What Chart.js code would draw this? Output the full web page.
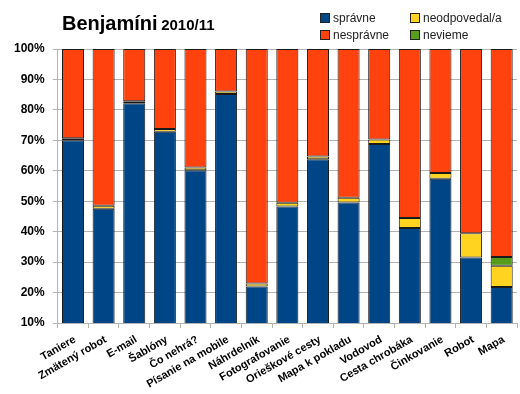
<!DOCTYPE html>
<html>
<head>
<meta charset="utf-8">
<script src="https://cdn.jsdelivr.net/npm/chart.js@4.4.1/dist/chart.umd.min.js"></script>
<style>
    html, body { margin: 0; padding: 0; background: #ffffff; }
    #wrap { width: 520px; height: 394px; position: relative; }
</style>
</head>
<body>
<div id="wrap"><canvas id="benjChart"></canvas></div>
<script>
// ############### data ###############
const tasks = [
    "Taniere", "Zmätený robot", "E-mail", "Šablóny", "Čo nehrá?",
    "Písanie na mobile", "Náhrdelník", "Fotografovanie", "Orieškové cesty",
    "Mapa k pokladu", "Vodovod", "Cesta chrobáka", "Činkovanie", "Robot", "Mapa"
];
const spravne      = [70.0, 47.5, 82.2, 72.8, 60.2, 85.2, 22.0, 48.3, 63.8, 49.6, 68.8, 41.2, 57.4, 31.5, 21.8];
const neodpovedal  = [0.7, 1.0, 0.6, 0.9, 0.9, 0.8, 1.0, 1.2, 0.9, 1.5, 1.5, 3.3, 1.9, 8.0, 7.0];
const nevieme      = [0, 0, 0, 0, 0, 0, 0, 0, 0, 0, 0, 0, 0, 0, 2.9];
const nespravne    = [29.3, 51.5, 17.2, 26.3, 38.9, 14.0, 77.0, 50.5, 35.3, 48.9, 29.7, 55.5, 40.7, 60.5, 68.3];
const yTicks = [10, 20, 30, 40, 50, 60, 70, 80, 90, 100];

const colSpravne = "#004586";
const colNespravne = "#ff420e";
const colNeodp = "#ffd320";
const colNevieme = "#579d1c";

// title + two column legend drawn on the canvas
const headerPlugin = {
    id: "header",
    afterDraw(chart) {
        const ctx = chart.ctx;
        ctx.save();
        ctx.fillStyle = "#000000";
        ctx.textBaseline = "alphabetic";
        ctx.textAlign = "left";
        ctx.font = "bold 20px 'Liberation Sans', Arial, sans-serif";
        ctx.fillText("Benjamíni", 62, 30);
        const w = ctx.measureText("Benjamíni ").width;
        ctx.font = "bold 15px 'Liberation Sans', Arial, sans-serif";
        ctx.fillText("2010/11", 62 + w - 2, 30);

        const items = [
            ["správne", colSpravne, 320, 18],
            ["nesprávne", colNespravne, 320, 35],
            ["neodpovedal/a", colNeodp, 410, 18],
            ["nevieme", colNevieme, 410, 35]
        ];
        ctx.font = "12px 'Liberation Sans', Arial, sans-serif";
        ctx.textBaseline = "middle";
        items.forEach(([label, color, x, y]) => {
            ctx.fillStyle = color;
            ctx.fillRect(x, y - 5, 10, 10);
            ctx.strokeStyle = "#222222";
            ctx.lineWidth = 1;
            ctx.strokeRect(x + 0.5, y - 4.5, 9, 9);
            ctx.fillStyle = "#222222";
            ctx.fillText(label, x + 13, y + 1);
        });
        ctx.restore();
    }
};

function ds(label, data, color) {
    return {
        label: label,
        data: data,
        backgroundColor: color,
        borderColor: "#1a1a1a",
        // no outline for empty segments
        borderWidth: function (c) {
            return c.raw ? 1 : 0;
        },
        borderSkipped: false,
        barPercentage: 0.72,
        categoryPercentage: 1.0
    };
}

const ctx = document.getElementById("benjChart").getContext("2d");
new Chart(ctx, {
    type: "bar",
    data: {
        labels: tasks,
        datasets: [
            ds("správne", spravne, colSpravne),
            ds("neodpovedal/a", neodpovedal, colNeodp),
            ds("nevieme", nevieme, colNevieme),
            ds("nesprávne", nespravne, colNespravne)
        ]
    },
    options: {
        responsive: true,
        maintainAspectRatio: false,
        animation: false,
        layout: {
            padding: { top: 49, left: 6, right: 3, bottom: 0 }
        },
        plugins: {
            legend: { display: false },
            tooltip: { enabled: false }
        },
        scales: {
            x: {
                stacked: true,
                // fixed band under the plot for the slanted names
                afterFit: function (axis) {
                    axis.height = 71;
                },
                grid: {
                    drawOnChartArea: false,
                    tickLength: 5,
                    color: "#b3b3b3"
                },
                border: { color: "#b3b3b3" },
                ticks: {
                    autoSkip: false,
                    minRotation: 30,
                    maxRotation: 30,
                    padding: 5,
                    labelOffset: 2,
                    color: "#000000",
                    font: { family: "'Liberation Sans', Arial, sans-serif", size: 11, weight: "bold" }
                }
            },
            y: {
                stacked: true,
                min: 10,
                max: 100,
                afterBuildTicks: function (axis) {
                    axis.ticks = yTicks.map(v => ({ value: v }));
                },
                grid: {
                    color: "#b3b3b3",
                    tickLength: 5
                },
                border: { color: "#b3b3b3" },
                ticks: {
                    padding: 8,
                    color: "#000000",
                    callback: function (value) {
                        return value + "%";
                    },
                    font: { family: "'Liberation Sans', Arial, sans-serif", size: 12, weight: "bold" }
                }
            }
        }
    },
    plugins: [headerPlugin]
});
</script>
</body>
</html>
